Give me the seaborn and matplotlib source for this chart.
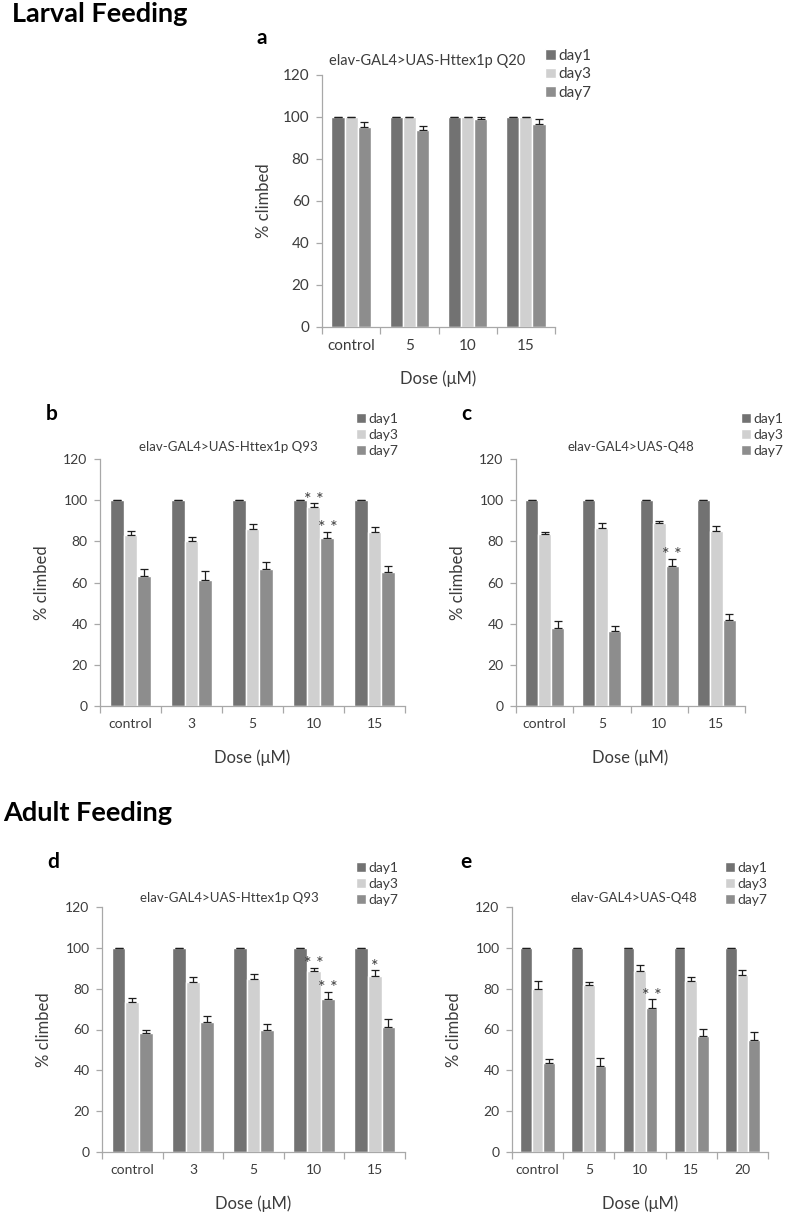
import numpy as np
import pandas as pd
import seaborn as sns
import matplotlib.pyplot as plt

### Data ###

days = ["day1", "day3", "day7"]

dose_a = ["control", "5", "10", "15"]
a_day1 = [100, 100, 100, 100]
a_day3 = [100, 100, 100, 100]
a_day7 = [95.1, 93.8, 98.9, 96.7]
a_err1 = [0, 0, 0, 0]
a_err3 = [0, 0, 0, 0]
a_err7 = [2.7, 1.9, 1.3, 2.2]

dose_b = ["control", "3", "5", "10", "15"]
b_day1 = [100, 100, 100, 100, 100]
b_day3 = [82.9, 80.1, 86.1, 96.6, 84.5]
b_day7 = [63.3, 61.1, 66.6, 81.4, 64.9]
b_err1 = [0, 0, 0, 0, 0]
b_err3 = [2.2, 2.1, 2.4, 1.8, 2.4]
b_err7 = [3.1, 4.5, 3.2, 3.1, 3.3]

dose_c = ["control", "5", "10", "15"]
c_day1 = [100, 100, 100, 100]
c_day3 = [83.6, 86.5, 88.9, 85.0]
c_day7 = [37.8, 36.2, 68.2, 41.7]
c_err1 = [0, 0, 0, 0]
c_err3 = [1.0, 2.4, 1.1, 2.4]
c_err7 = [3.6, 2.6, 3.3, 3.1]

dose_d = ["control", "3", "5", "10", "15"]
d_day1 = [100, 100, 100, 100, 100]
d_day3 = [73.4, 83.3, 84.8, 88.7, 86.4]
d_day7 = [58.2, 63.6, 59.8, 75.0, 61.1]
d_err1 = [0, 0, 0, 0, 0]
d_err3 = [2.1, 2.3, 2.6, 1.3, 2.5]
d_err7 = [1.8, 3.1, 3.0, 3.6, 3.8]

dose_e = ["control", "5", "10", "15", "20"]
e_day1 = [100, 100, 100, 100, 100]
e_day3 = [80.0, 81.7, 88.5, 83.8, 86.9]
e_day7 = [43.5, 42.0, 70.3, 56.7, 55.0]
e_err1 = [0, 0, 0, 0, 0]
e_err3 = [3.8, 1.7, 3.2, 1.8, 2.1]
e_err7 = [2.1, 3.9, 4.4, 3.5, 3.6]

# significance marks: (day, dose, mark)
b_stars = [("day3", "10", "* *"), ("day7", "10", "* *")]
c_stars = [("day7", "10", "* *")]
d_stars = [("day3", "10", "* *"), ("day7", "10", "* *"), ("day3", "15", "*")]
e_stars = [("day7", "10", "* *")]

### Style ###

W, H = 787, 1216
colors = ["#727272", "#d0d0d0", "#8d8d8d"]
axis_grey = "#a8a8a8"
text_grey = "#3c3c3c"

sns.set_style("ticks")
plt.rcParams['font.family'] = ['Lato', 'DejaVu Sans']
plt.rcParams['text.color'] = text_grey
plt.rcParams['axes.labelcolor'] = text_grey
plt.rcParams['xtick.color'] = axis_grey
plt.rcParams['ytick.color'] = axis_grey
plt.rcParams['xtick.labelcolor'] = text_grey
plt.rcParams['ytick.labelcolor'] = text_grey

fig = plt.figure(figsize=(W / 100, H / 100), dpi=100)


def fx(x):
    return x / W


def fy(y):
    return 1 - y / H


def draw_panel(box, doses, values, errors, stars, title, title_xy, legend_xy,
               letter, letter_xy, tick_size=10, title_size=9.5, leg_size=10):
    l, t, r, b = box
    ax = fig.add_axes([fx(l), fy(b), (r - l) / W, (b - t) / H])
    rows = []
    for day, vals in zip(days, values):
        for dose, v in zip(doses, vals):
            rows.append((dose, day, v))
    df = pd.DataFrame(rows, columns=["dose", "day", "value"])
    sns.barplot(data=df, x="dose", y="value", hue="day", order=doses,
                hue_order=days, palette=colors, saturation=1, width=0.68,
                gap=0, errorbar=None, ax=ax)
    # one-sided (upper) error bars, Excel style
    centers = {}
    for day, cont, err in zip(days, ax.containers, errors):
        xs = [p.get_x() + p.get_width() / 2 for p in cont.patches]
        hs = [p.get_height() for p in cont.patches]
        ax.errorbar(xs, hs, yerr=[np.zeros(len(err)), err], fmt="none",
                    ecolor="#1e1e1e", elinewidth=0.9, capsize=3.2,
                    capthick=0.9)
        for dose, x, h, e in zip(doses, xs, hs, err):
            centers[(day, dose)] = (x, h + e)
    for day, dose, mark in stars:
        x, y = centers[(day, dose)]
        ax.annotate(mark, (x, y), xytext=(0, -3), textcoords="offset points",
                    ha="center", va="bottom", fontsize=13, color=text_grey)

    ax.set_ylim(0, 120)
    ax.set_yticks(range(0, 121, 20))
    ax.set_xlim(-0.5, len(doses) - 0.5)
    ax.set_xticks(np.arange(-0.5, len(doses), 1), minor=True)
    ax.tick_params(axis="x", which="major", length=0, pad=9, labelsize=tick_size)
    ax.tick_params(axis="x", which="minor", length=5, width=0.9, color=axis_grey)
    ax.tick_params(axis="y", length=4, width=0.9, pad=5, labelsize=tick_size)
    sns.despine(ax=ax)
    for s in ["left", "bottom"]:
        ax.spines[s].set_color(axis_grey)
        ax.spines[s].set_linewidth(0.9)

    ax.set_xlabel("Dose (\u03bcM)", fontsize=12)
    ax.set_ylabel("% climbed", fontsize=12)
    ax.xaxis.set_label_coords(0.5, -52 / (b - t))
    ax.xaxis.label.set_va("center")
    ax.yaxis.set_label_coords(-58 / (r - l), 0.5)
    ax.yaxis.label.set_va("center")

    handles, labels = ax.get_legend_handles_labels()
    ax.legend(handles, labels, loc="upper left",
              bbox_to_anchor=(fx(legend_xy[0]), fy(legend_xy[1])),
              bbox_transform=fig.transFigure, frameon=False, fontsize=leg_size,
              handlelength=0.7, handleheight=0.7, handletextpad=0.2,
              labelspacing=0.28, borderpad=0, borderaxespad=0,
              labelcolor=text_grey)

    fig.text(fx(title_xy[0]), fy(title_xy[1]), title, ha="center",
             va="center", fontsize=title_size, color=text_grey)
    fig.text(fx(letter_xy[0]), fy(letter_xy[1]), letter, ha="center",
             va="center", fontsize=15, fontweight="bold", color="black")
    return ax


fig.text(fx(12), fy(14), "Larval Feeding", ha="left", va="center",
         fontsize=19.5, fontweight="bold", color="black")
fig.text(fx(3), fy(813), "Adult Feeding", ha="left", va="center",
         fontsize=19.5, fontweight="bold", color="black")

draw_panel((322, 75, 555, 327), dose_a, [a_day1, a_day3, a_day7],
           [a_err1, a_err3, a_err7], [], "elav-GAL4>UAS-Httex1p Q20",
           (427, 61), (545, 49), "a", (262, 38), tick_size=11,
           title_size=10.5, leg_size=11)
draw_panel((100, 459, 405, 706), dose_b, [b_day1, b_day3, b_day7],
           [b_err1, b_err3, b_err7], b_stars, "elav-GAL4>UAS-Httex1p Q93",
           (228, 447), (356, 413), "b", (52, 414))
draw_panel((516, 459, 745, 706), dose_c, [c_day1, c_day3, c_day7],
           [c_err1, c_err3, c_err7], c_stars, "elav-GAL4>UAS-Q48",
           (631, 447), (741, 413), "c", (466, 414))
draw_panel((102, 907, 405, 1152), dose_d, [d_day1, d_day3, d_day7],
           [d_err1, d_err3, d_err7], d_stars, "elav-GAL4>UAS-Httex1p Q93",
           (229, 898), (356, 862), "d", (53, 862))
draw_panel((512, 907, 768, 1152), dose_e, [e_day1, e_day3, e_day7],
           [e_err1, e_err3, e_err7], e_stars, "elav-GAL4>UAS-Q48",
           (634, 898), (725, 862), "e", (466, 862))

fig.savefig("out.png", dpi=100, facecolor="white")
